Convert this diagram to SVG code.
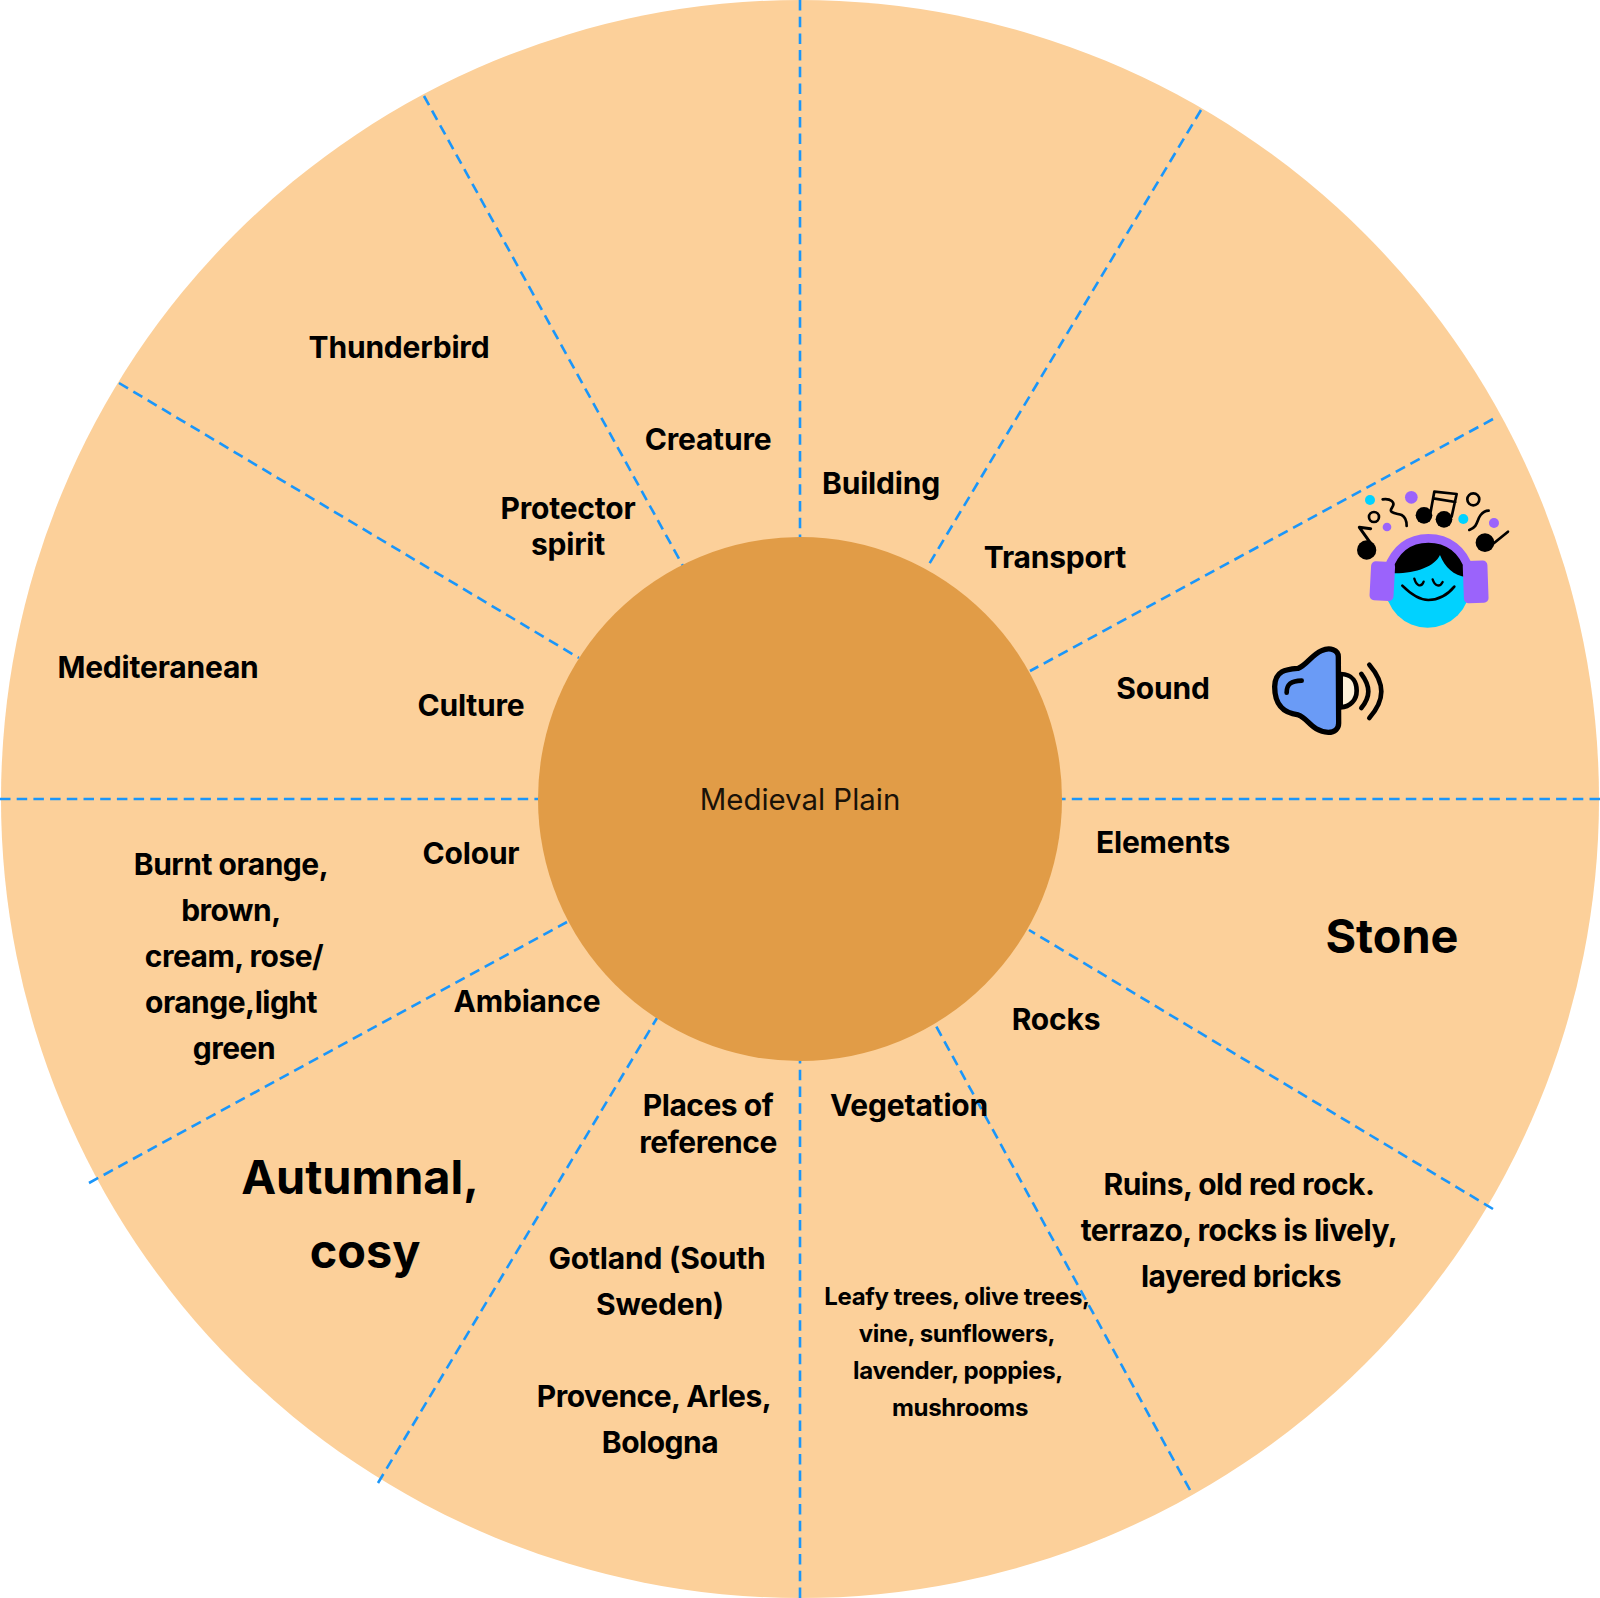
<svg xmlns="http://www.w3.org/2000/svg" width="1600" height="1598" viewBox="0 0 1600 1598">
<style>
text{font-family:Inter,"Noto Sans","Liberation Sans",sans-serif;font-weight:650;fill:#000;text-anchor:middle}
.s{font-size:30px;letter-spacing:-.2px}.d{font-size:30px;letter-spacing:-.5px}.t{font-size:24px;letter-spacing:-.36px}.l{font-size:46.8px;font-weight:700}
.c{stroke:#1a96fa;stroke-width:2.6;stroke-dasharray:10.5 6.2;fill:none}
.k{fill:none;stroke:#000;stroke-linecap:round;stroke-linejoin:round}
.p{fill:#9b63fb}.b{fill:#00d2ff}.n{fill:#000}
</style>
<rect width="1600" height="1598" fill="#fff"/>
<circle id="wheel" cx="800" cy="799" r="799" fill="#fcd09a"/>
<g id="connectors">
<line class="c" x1="800" y1="0" x2="800" y2="537"/>
<line class="c" x1="1201" y1="110" x2="928" y2="566"/>
<line class="c" x1="1493" y1="419" x2="1030" y2="671"/>
<line class="c" x1="1600" y1="799" x2="1062" y2="799"/>
<line class="c" x1="1493" y1="1209" x2="1029" y2="930"/>
<line class="c" x1="1190" y1="1490" x2="936" y2="1026"/>
<line class="c" x1="800" y1="1598" x2="800" y2="1061"/>
<line class="c" x1="378" y1="1483" x2="657" y2="1018"/>
<line class="c" x1="89" y1="1183" x2="567" y2="922"/>
<line class="c" x1="0" y1="799" x2="538" y2="799"/>
<line class="c" x1="119" y1="383" x2="579" y2="658"/>
<line class="c" x1="424" y1="96" x2="683" y2="566"/>
</g>
<g id="hub"><circle cx="800" cy="799" r="262" fill="#e19c47"/>
<text x="800" y="810" style="font-weight:400;fill:#1a1208;font-size:29.4px;letter-spacing:0">Medieval Plain</text></g>
<g id="building"><text class="s" x="881" y="493.500">Building</text></g>
<g id="transport"><text class="s" x="1055" y="567.500">Transport</text></g>
<g id="sound"><text class="s" x="1163" y="699">Sound</text></g>
<g id="elements"><text class="s" x="1163" y="853">Elements</text></g>
<g id="stone"><text class="l" x="1392" y="953">Stone</text></g>
<g id="rocks"><text class="s" x="1056" y="1030">Rocks</text>
<text class="d" x="1239" y="1194.500">Ruins, old red rock.</text>
<text class="d" x="1239" y="1240.500">terrazo, rocks is lively,</text>
<text class="d" x="1241" y="1286.500">layered bricks</text></g>
<g id="vegetation"><text class="s" x="909" y="1116">Vegetation</text>
<text class="t" x="957" y="1305">Leafy trees, olive trees,</text>
<text class="t" x="957" y="1342">vine, sunflowers,</text>
<text class="t" x="958" y="1379">lavender, poppies,</text>
<text class="t" x="960" y="1416">mushrooms</text></g>
<g id="places"><text class="d" x="708" y="1116">Places of</text>
<text class="d" x="708" y="1153">reference</text>
<text class="s" x="657" y="1269">Gotland (South</text>
<text class="s" x="660" y="1315">Sweden)</text>
<text class="d" x="654" y="1407">Provence, Arles,</text>
<text class="d" x="660" y="1453">Bologna</text></g>
<g id="ambiance"><text class="s" x="527" y="1012">Ambiance</text>
<text class="l" x="360" y="1194">Autumnal,</text>
<text class="l" x="365" y="1268">cosy</text></g>
<g id="colour"><text class="s" x="471" y="864">Colour</text>
<text class="d" x="231" y="875">Burnt orange,</text>
<text class="d" x="231" y="921">brown,</text>
<text class="d" x="234" y="967">cream, rose/</text>
<text class="d" x="231" y="1013">orange,light</text>
<text class="d" x="234" y="1059">green</text></g>
<g id="culture"><text class="s" x="471" y="716">Culture</text>
<text class="s" x="158" y="678">Mediteranean</text></g>
<g id="protector"><text class="s" x="568" y="519">Protector</text>
<text class="s" x="568" y="555">spirit</text>
<text class="s" x="399" y="358">Thunderbird</text></g>
<g id="creature"><text class="s" x="708" y="450">Creature</text></g>
<g id="speaker-icon" transform="translate(1240 470) scale(.3333)">
<path d="M302,612 C340,612 350,640 350,662 C350,690 330,712 302,712Z" fill="#fdf0d8" stroke="#000" stroke-width="14"/>
<path d="M295,560 C295,540 270,530 245,542 C215,555 200,585 175,595 C140,598 105,600 104,650 C104,710 135,730 175,735 C205,745 215,785 265,787 C285,787 296,775 296,760Z" fill="#6a9bf6" stroke="#000" stroke-width="16" stroke-linejoin="round"/>
<path class="k" stroke-width="14" d="M140,668 C140,645 150,632 185,632M364,612 C392,650 392,680 364,714M388,584 C436,640 436,690 388,744"/>
</g>
<g id="listener-icon" transform="translate(1240 470) scale(.3333)">
<circle class="b" cx="563" cy="345" r="128"/>
<path class="n" d="M455,308 C470,240 515,205 565,205 C620,205 668,240 680,322 C640,316 615,292 600,255 C585,288 530,310 465,310Z"/>
<path class="k" style="stroke:#9b63fb" stroke-width="26" d="M443,300 C465,235 510,205 565,205 C625,205 670,240 688,300"/>
<rect class="p" x="391" y="275" width="72" height="117" rx="14" transform="rotate(3 427 333)"/>
<rect class="p" x="670" y="272" width="74" height="127" rx="14" transform="rotate(-2 707 335)"/>
<path class="k" stroke-width="8" d="M487,347 C525,385 550,390 565,390 C590,390 620,378 643,350"/>
<path class="k" stroke-width="7" d="M523,326 C530,350 545,352 551,335M578,328 C585,350 600,352 608,336"/>
<circle class="b" cx="390" cy="90" r="15"/><circle class="p" cx="514" cy="82" r="19"/><circle class="p" cx="441" cy="171" r="13"/>
<circle class="b" cx="670" cy="147" r="15"/><circle class="p" cx="762" cy="159" r="15"/>
<circle class="k" cx="402" cy="141" r="15" stroke-width="8"/><circle class="k" cx="700" cy="88" r="18" stroke-width="8"/>
<path class="k" stroke-width="8" d="M428,88 C450,85 470,95 455,115 C445,130 470,130 485,135 C498,142 500,155 500,168M688,180 C715,170 710,150 722,135 C730,125 738,122 746,122"/>
<circle class="n" cx="380" cy="240" r="29"/><path class="k" stroke-width="9" d="M403,235 L358,172 L392,176"/>
<circle class="n" cx="552" cy="136" r="25"/><circle class="n" cx="612" cy="148" r="25"/>
<path class="k" stroke-width="8" d="M572,125 L583,65 L650,72 L635,140M580,85 L646,96"/>
<circle class="n" cx="735" cy="218" r="28"/><path class="k" stroke-width="8" d="M755,225 L804,185"/>
</g>
</svg>
